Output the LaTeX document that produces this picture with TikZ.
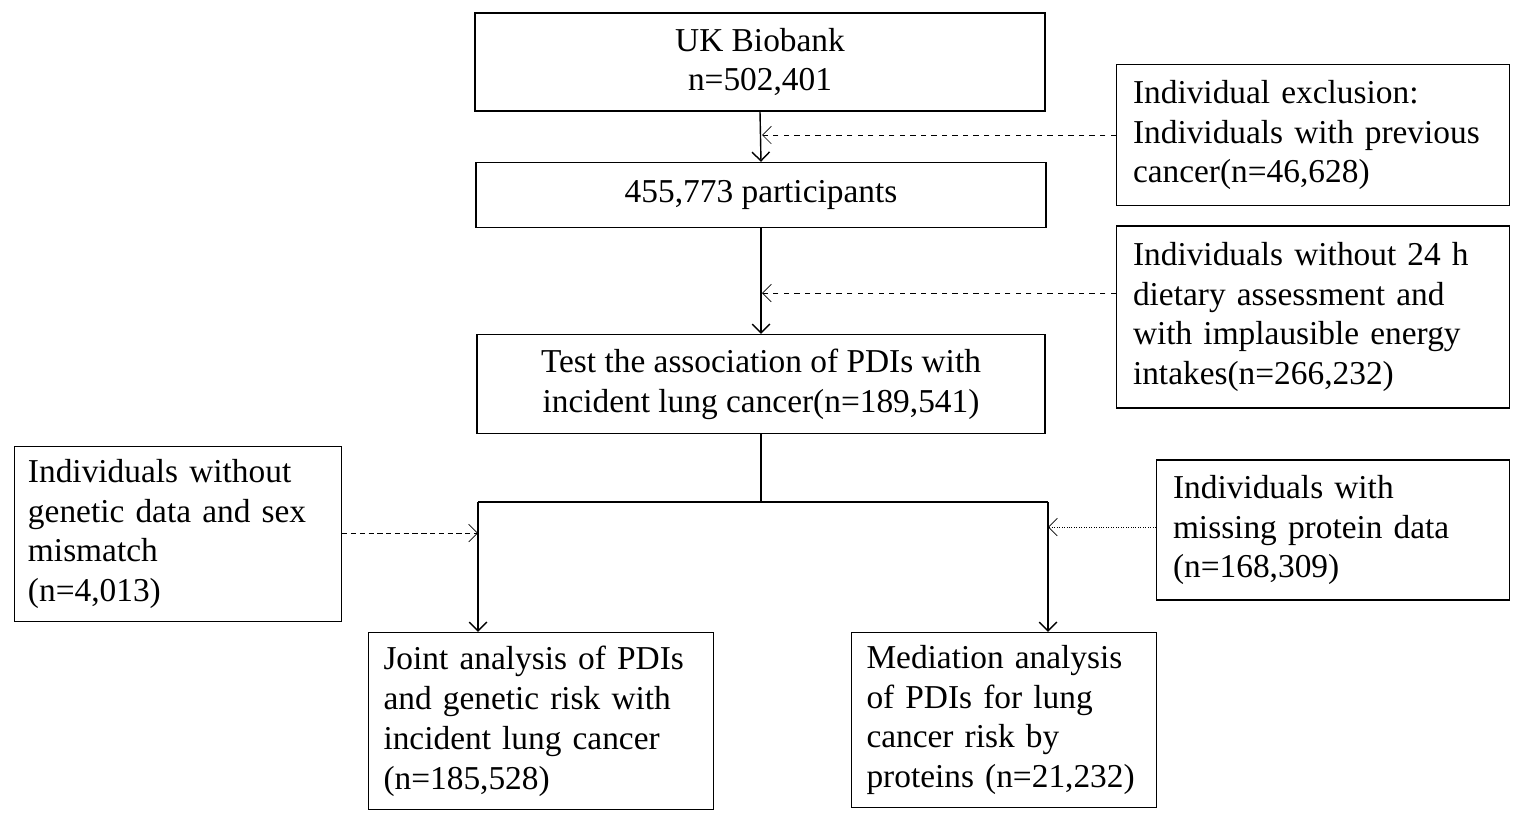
\documentclass[tikz,border=0pt]{standalone}
\usepackage{fontspec}
\setmainfont{Liberation Serif}
\usetikzlibrary{arrows.meta}
\begin{document}
\begin{tikzpicture}
	[
	x=0.02cm, y=-0.02cm, font=\fontsize{19}{22.7}\selectfont, >={Straight Barb[length=5pt]},
	%Boxen
	box/.style={draw, thick, inner sep=0pt, align=center},
	lbox/.style={draw, thick, inner sep=0pt, align=left}
	]
	\useasboundingbox (0,0) rectangle (1524,823);

	%Hauptpfad
	\node[box, minimum width=570*0.02cm, minimum height=98*0.02cm] (uk) at (760,62) {UK Biobank\\n=502,401};
	\node[box, minimum width=570*0.02cm, minimum height=65*0.02cm] (part) at (761,195) {455,773 participants};
	\node[box, minimum width=568*0.02cm, minimum height=99*0.02cm] (test) at (761,384) {Test the association of PDIs with\\incident lung cancer(n=189,541)};

	%Ausschluss
	\node[lbox, minimum width=393*0.02cm, minimum height=141*0.02cm, text width=360*0.02cm] (ex1) at (1313,135) {Individual exclusion:\\Individuals with previous\\cancer(n=46,628)};
	\node[lbox, minimum width=393*0.02cm, minimum height=182*0.02cm, text width=360*0.02cm] (ex2) at (1313,317) {Individuals without 24 h\\dietary assessment and\\with implausible energy\\intakes(n=266,232)};
	\node[lbox, minimum width=327*0.02cm, minimum height=175*0.02cm, text width=300*0.02cm] (ex3) at (178,534) {Individuals without\\genetic data and sex\\mismatch\\(n=4,013)};
	\node[lbox, minimum width=353*0.02cm, minimum height=140*0.02cm, text width=320*0.02cm] (ex4) at (1333,530) {Individuals with\\missing protein data\\(n=168,309)};

	%Analysen
	\node[lbox, minimum width=345*0.02cm, minimum height=177*0.02cm, text width=315*0.02cm] (joint) at (541,721) {Joint analysis of PDIs\\and genetic risk with\\incident lung cancer\\(n=185,528)};
	\node[lbox, minimum width=305*0.02cm, minimum height=175*0.02cm, text width=275*0.02cm] (med) at (1004,720) {Mediation analysis\\of PDIs for lung\\cancer risk by\\proteins (n=21,232)};

	%Pfeile
	\coordinate (s) at (761,502);
	\coordinate (sl) at (478,502);
	\coordinate (sr) at (1048,502);
	\draw[thick, ->] (uk.south) -- (part.north);
	\draw[thick, ->] (part.south) -- (test.north);
	\draw[very thick] (test.south) -- (s);
	\draw[thick] (sl) -- (sr);
	\draw[thick, ->] (sl) -- (sl |- joint.north);
	\draw[thick, ->] (sr) -- (sr |- med.north);

	%gestrichelt
	\draw[dashed, ->] (ex1.west |- 0,135) -- (762,135);
	\draw[dashed, ->] (ex2.west |- 0,293) -- (762,293);
	\draw[densely dashed, ->] (ex3.east |- 0,533) -- (478,533);
	\draw[densely dotted, ->] (ex4.west |- 0,527) -- (1048,527);
\end{tikzpicture}
\end{document}
